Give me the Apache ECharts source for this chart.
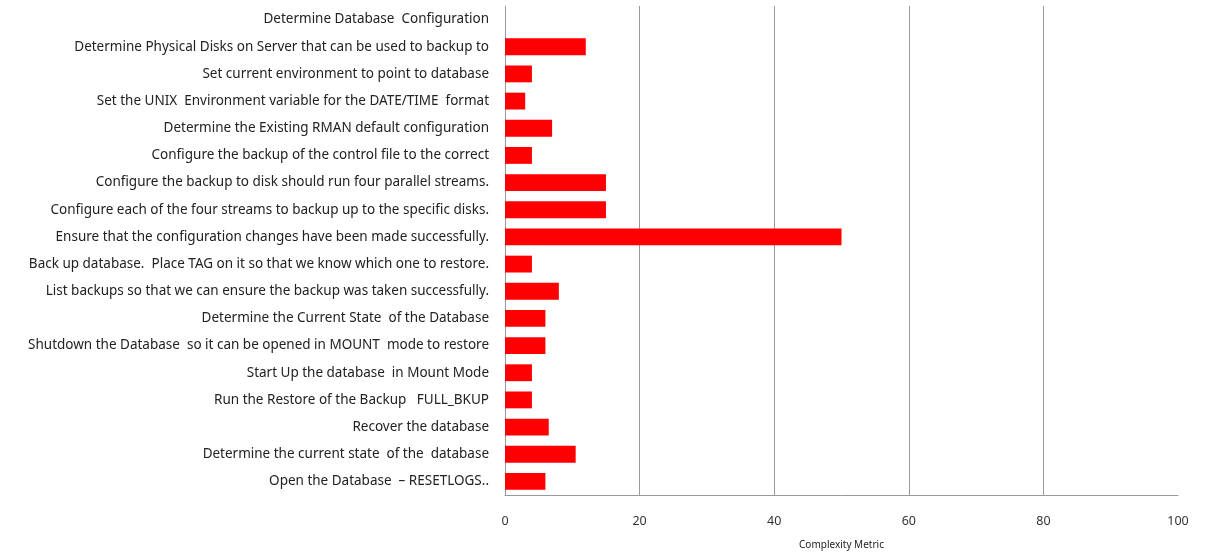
<!DOCTYPE html>
<html>
<head>
<meta charset="utf-8">
<script src="https://cdn.jsdelivr.net/npm/echarts@6/dist/echarts.min.js"></script>
<style>
html, body { margin: 0; padding: 0; background: #fff; }
#chart { width: 1205px; height: 552px; }
</style>
</head>
<body>
<div id="chart"></div>
<script>
var steps = [
    'Determine Database  Configuration',
    'Determine Physical Disks on Server that can be used to backup to',
    'Set current environment to point to database',
    'Set the UNIX  Environment variable for the DATE/TIME  format',
    'Determine the Existing RMAN default configuration',
    'Configure the backup of the control file to the correct',
    'Configure the backup to disk should run four parallel streams.',
    'Configure each of the four streams to backup up to the specific disks.',
    'Ensure that the configuration changes have been made successfully.',
    'Back up database.  Place TAG on it so that we know which one to restore.',
    'List backups so that we can ensure the backup was taken successfully.',
    'Determine the Current State  of the Database',
    'Shutdown the Database  so it can be opened in MOUNT  mode to restore',
    'Start Up the database  in Mount Mode',
    'Run the Restore of the Backup   FULL_BKUP',
    'Recover the database',
    'Determine the current state  of the  database',
    'Open the Database  \u2013 RESETLOGS..'
];
var complexity = [0, 12, 4, 3, 7, 4, 15, 15, 50, 4, 8, 6, 6, 4, 4, 6.5, 10.5, 6];
var xTicks = [0, 20, 40, 60, 80, 100];

var chart = echarts.init(document.getElementById('chart'));
var option = {
    animation: false,
    textStyle: { fontFamily: 'Noto Sans' },
    grid: { left: 505, right: 27, top: 6, bottom: 57, containLabel: false, outerBoundsMode: 'none' },
    xAxis: {
        type: 'value',
        min: xTicks[0],
        max: xTicks[xTicks.length - 1],
        interval: 20,
        name: 'Complexity Metric',
        nameLocation: 'middle',
        nameGap: 45,
        nameTextStyle: { fontSize: 10, color: '#222' },
        axisLine: { show: true, lineStyle: { color: '#999', width: 1 } },
        axisTick: { show: false },
        axisLabel: { fontSize: 12.5, color: '#333', margin: 20 },
        splitLine: { show: true, showMinLine: false, showMaxLine: false, lineStyle: { color: '#999', width: 1 } }
    },
    yAxis: {
        type: 'category',
        data: steps,
        inverse: true,
        axisLine: { show: true, lineStyle: { color: '#999', width: 1 } },
        axisTick: { show: false },
        axisLabel: { fontSize: 13.5, color: '#222', margin: 16 },
        splitLine: { show: false }
    },
    series: [{
        type: 'bar',
        data: complexity,
        barWidth: '62%',
        itemStyle: { color: '#ff0000' }
    }]
};
chart.setOption(option);
</script>
</body>
</html>
